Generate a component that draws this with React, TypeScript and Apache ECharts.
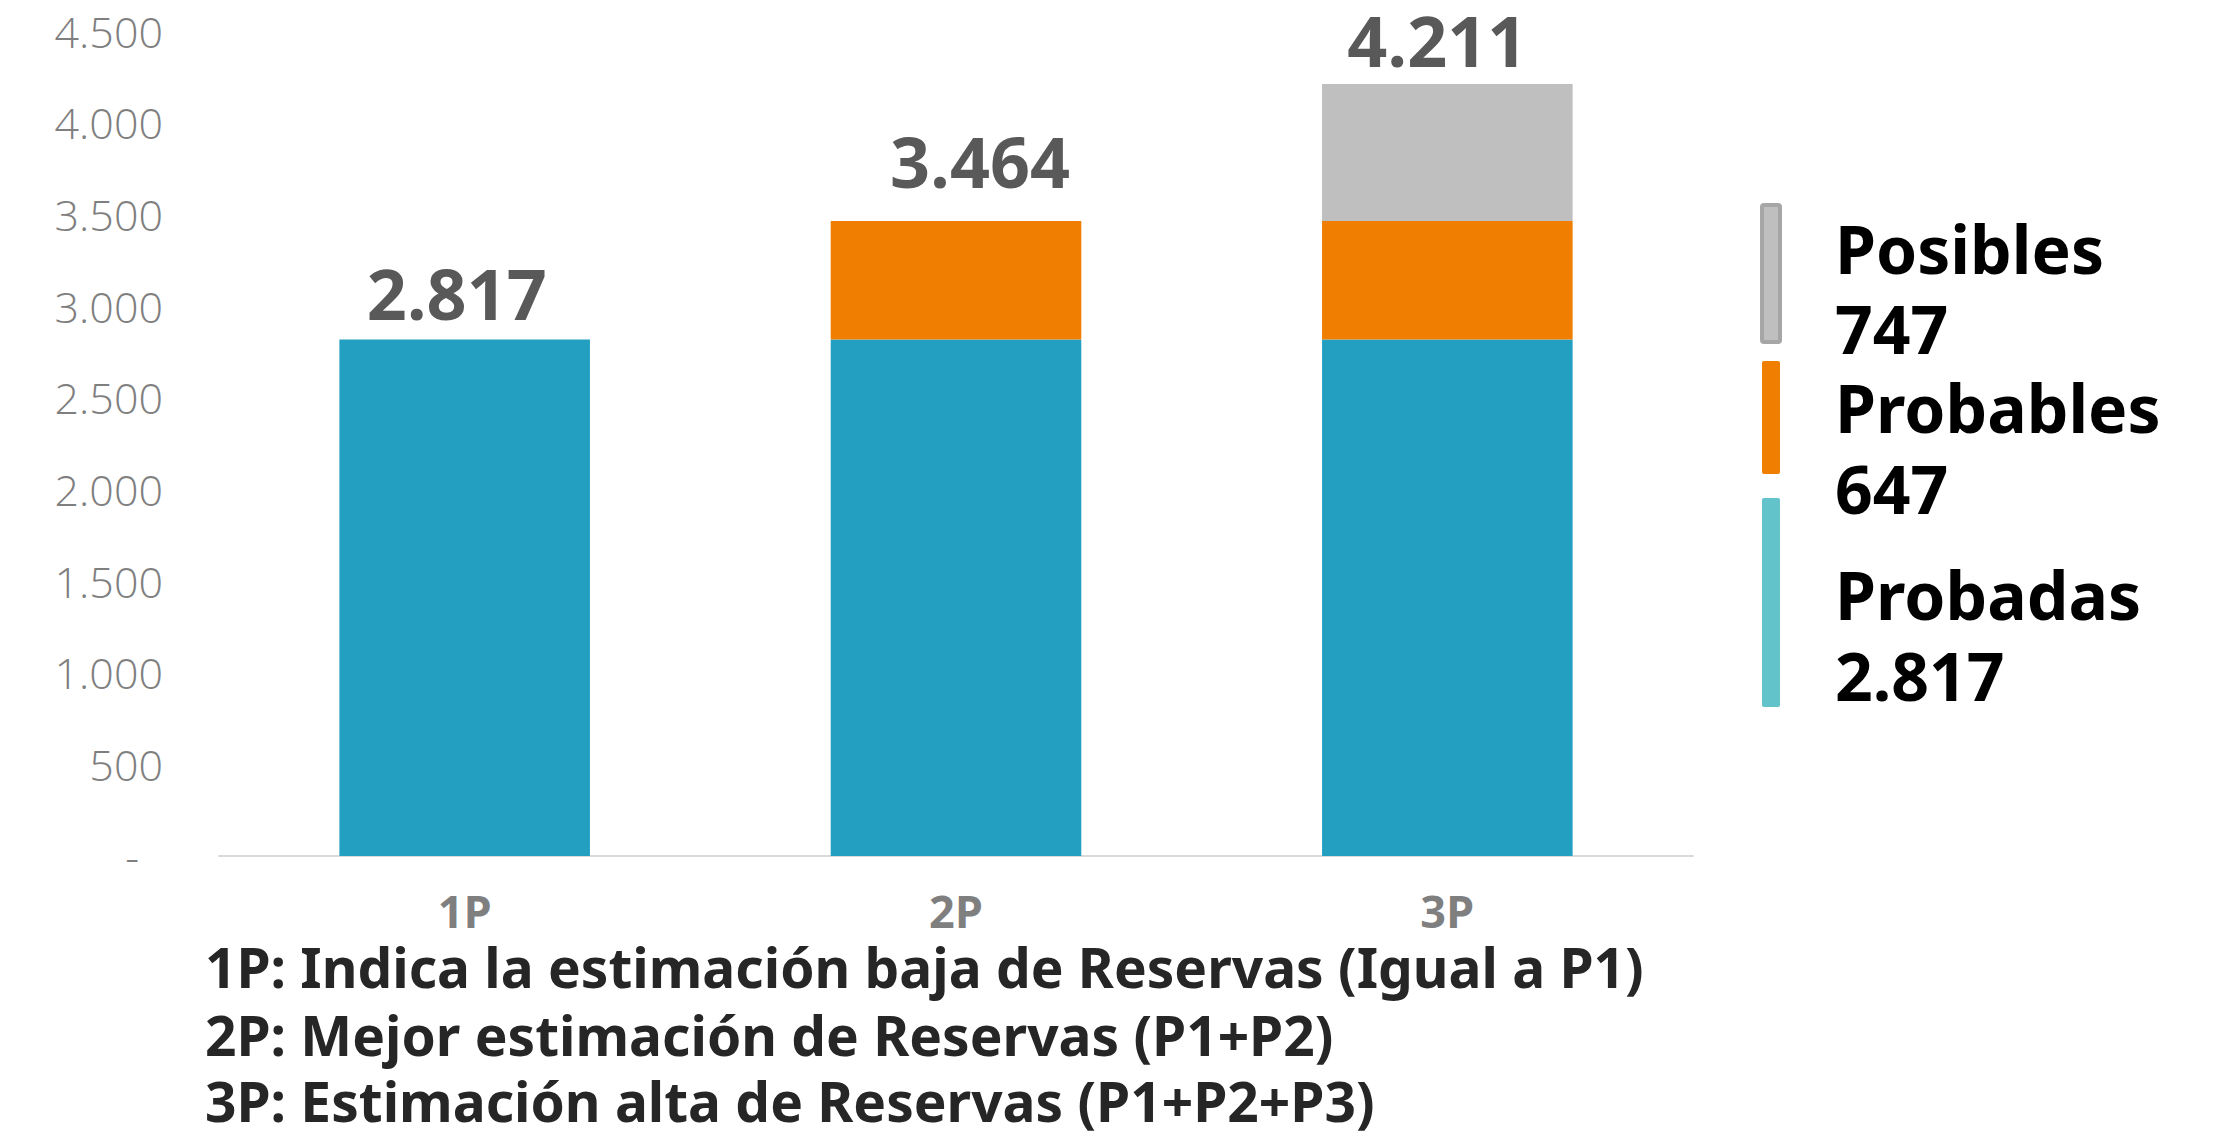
import React, { useEffect, useRef } from "react";
import * as echarts from "echarts";

const categories = ["1P", "2P", "3P"];
const probadas = [2817, 2817, 2817];
const probables = [null, 647, 647];
const posibles = [null, null, 747];
const seriesNames = ["Probadas", "Probables", "Posibles"];
const legendValues = [2817, 647, 747];
const footnotes = [
  "1P: Indica la estimación baja de Reservas (Igual a P1)",
  "2P: Mejor estimación de Reservas (P1+P2)",
  "3P: Estimación alta de Reservas (P1+P2+P3)",
];
const yMin = 0;
const yMax = 4500;
const yInterval = 500;

const fmt = (n: number) =>
  n === 0 ? "-" : String(n).replace(/\B(?=(\d{3})+(?!\d))/g, ".");

const COLORS = { probadas: "#23A0C1", probables: "#F07E00", posibles: "#BFBFBF" };
const LEGEND_COLORS = ["#63C3CB", "#F07E00", "#BFBFBF"];

export default function App() {
  const ref = useRef<HTMLDivElement>(null);
  useEffect(() => {
    if (!ref.current) return;
    const chart = echarts.init(ref.current, null, { renderer: "svg" });
    const totals = categories.map(
      (_, i) => (probadas[i] || 0) + (probables[i] || 0) + (posibles[i] || 0)
    );
    const barW = "51%";
    const labelFont = "'Open Sans', 'Noto Sans', sans-serif";
    const legendFont = "'Noto Sans', 'Open Sans', sans-serif";

    // legend: order top-to-bottom Posibles, Probables, Probadas
    const legendItems = [
      { name: seriesNames[2], value: legendValues[2], color: LEGEND_COLORS[2], border: "#A6A6A6", y: 205, h: 137, t1: 248, t2: 328 },
      { name: seriesNames[1], value: legendValues[1], color: LEGEND_COLORS[1], border: null, y: 361, h: 113, t1: 407, t2: 488 },
      { name: seriesNames[0], value: legendValues[0], color: LEGEND_COLORS[0], border: null, y: 498, h: 209, t1: 594, t2: 675 },
    ];
    const graphics: any[] = [];
    legendItems.forEach((it) => {
      graphics.push({
        type: "rect",
        shape: { x: 1762, y: it.y, width: 18, height: it.h, r: 2 },
        style: it.border
          ? { fill: it.color, stroke: it.border, lineWidth: 4 }
          : { fill: it.color },
      });
      graphics.push({
        type: "text",
        x: 1835,
        y: it.t1,
        style: { text: it.name, font: `bold 66px ${legendFont}`, fill: "#000", textVerticalAlign: "middle", textAlign: "left" },
      });
      graphics.push({
        type: "text",
        x: 1835,
        y: it.t2,
        style: { text: fmt(it.value), font: `bold 66px ${legendFont}`, fill: "#000", textVerticalAlign: "middle", textAlign: "left" },
      });
    });
    const footY = [966, 1034, 1100];
    footnotes.forEach((t, i) => {
      graphics.push({
        type: "text",
        x: 205,
        y: footY[i],
        style: { text: t, font: `bold 55px ${legendFont}`, fill: "#262626", textVerticalAlign: "middle", textAlign: "left" },
      });
    });

    const labelDist = [12, 25, 9];
    const labelOff = [[-8, 0], [24, 0], [-10, 0]];

    chart.setOption({
      animation: false,
      backgroundColor: "#fff",
      grid: { left: 219, right: 525, top: 31, bottom: 276, containLabel: false },
      xAxis: {
        type: "category",
        data: categories,
        axisLine: { show: true, lineStyle: { color: "#D9D9D9", width: 2 } },
        axisTick: { show: false },
        axisLabel: {
          color: "#7F7F7F",
          fontSize: 45,
          fontWeight: "bold",
          fontFamily: labelFont,
          margin: 32,
        },
      },
      yAxis: {
        type: "value",
        min: yMin,
        max: yMax,
        interval: yInterval,
        splitLine: { show: false },
        axisLine: { show: false },
        axisTick: { show: false },
        axisLabel: {
          color: "#7F7F7F",
          fontSize: 43,
          fontWeight: 300,
          fontFamily: labelFont,
          margin: 56,
          formatter: (v: number) => (v === 0 ? "{d|-}" : fmt(v)),
          rich: {
            d: {
              color: "#7F7F7F",
              fontSize: 43,
              fontWeight: 300,
              fontFamily: labelFont,
              padding: [0, 24, 0, 0],
            },
          },
        },
      },
      series: [
        {
          name: seriesNames[0],
          type: "bar",
          stack: "t",
          barWidth: barW,
          data: probadas,
          itemStyle: { color: COLORS.probadas },
        },
        {
          name: seriesNames[1],
          type: "bar",
          stack: "t",
          barWidth: barW,
          data: probables,
          itemStyle: { color: COLORS.probables },
        },
        {
          name: seriesNames[2],
          type: "bar",
          stack: "t",
          barWidth: barW,
          data: posibles,
          itemStyle: { color: COLORS.posibles },
        },
        {
          name: "Total",
          type: "bar",
          stack: "t",
          barWidth: barW,
          data: categories.map((_, i) => ({
            value: 0,
            label: { distance: labelDist[i], offset: labelOff[i] },
          })),
          itemStyle: { color: "transparent" },
          label: {
            show: true,
            position: "top",
            color: "#595959",
            fontSize: 70,
            fontWeight: "bold",
            fontFamily: labelFont,
            formatter: (p: any) => fmt(totals[p.dataIndex]),
          },
        },
      ],
      graphic: graphics,
    });
    return () => chart.dispose();
  }, []);
  return (
    <div
      ref={ref}
      style={{ position: "fixed", left: 0, top: 0, width: 2218, height: 1132 }}
    />
  );
}
